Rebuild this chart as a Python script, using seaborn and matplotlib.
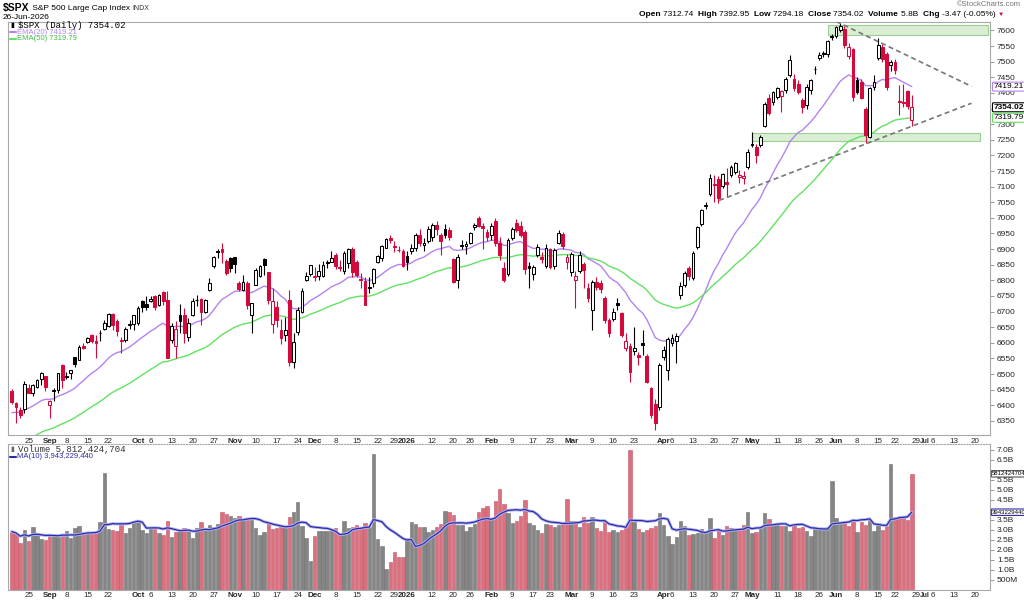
import numpy as np
import pandas as pd
import matplotlib
matplotlib.use("Agg")
import matplotlib.pyplot as plt
import matplotlib.patheffects as pe
from matplotlib.patches import Rectangle
import seaborn as sns

sns.set_theme(style="white")
plt.rcParams['font.family'] = ['Liberation Sans', 'DejaVu Sans']

# --- data (daily candles, 19-Aug-2025 .. 26-Jun-2026) ---
opens = [6446, 6409, 6386, 6388, 6457, 6440, 6460, 6483, 6494, 6401,
         6445, 6450, 6529, 6490, 6502, 6554, 6546, 6590, 6603, 6624,
         6606, 6631, 6644, 6654, 6693, 6670, 6608, 6610, 6658, 6660,
         6662, 6733, 6723, 6735, 6750, 6720, 6764, 6738, 6610, 6590,
         6690, 6690, 6620, 6690, 6736, 6740, 6700, 6770, 6845, 6895,
         6900, 6862, 6870, 6875, 6790, 6770, 6790, 6690, 6786, 6815,
         6868, 6827, 6660, 6714, 6641, 6625, 6738, 6540, 6636, 6700,
         6800, 6820, 6815, 6815, 6815, 6860, 6860, 6880, 6842, 6830,
         6855, 6900, 6860, 6805, 6798, 6780, 6790, 6860, 6870, 6905,
         6935, 6910, 6898, 6895, 6878, 6893, 6905, 6946, 6912, 6925,
         6940, 6978, 6945, 6965, 6960, 6868, 6800, 6910, 6910, 6920,
         6970, 7000, 6975, 6955, 6945, 6990, 6920, 6838, 6820, 6935,
         6985, 6975, 6955, 6845, 6820, 6880, 6875, 6845, 6900, 6845,
         6920, 6948, 6860, 6828, 6800, 6830, 6852, 6775, 6705, 6795,
         6792, 6743, 6672, 6676, 6726, 6696, 6582, 6590, 6575, 6562,
         6600, 6558, 6455, 6405, 6396, 6556, 6513, 6600, 6605, 6753,
         6786, 6839, 6807, 6906, 6980, 7038, 7076, 7110, 7123, 7101,
         7115, 7137, 7146, 7130, 7128, 7162, 7235, 7228, 7232, 7293,
         7383, 7370, 7386, 7390, 7408, 7456, 7446, 7430, 7376, 7360,
         7410, 7478, 7512, 7527, 7523, 7582, 7582, 7600, 7606, 7518,
         7542, 7440, 7435, 7350, 7260, 7418, 7513, 7548, 7523, 7488,
         7500, 7375, 7372, 7405, 7312.74]
highs = [6453, 6410, 6394, 6479, 6467, 6468, 6485, 6507, 6495, 6417,
         6454, 6502, 6532, 6507, 6513, 6555, 6592, 6600, 6619, 6627,
         6624, 6642, 6672, 6695, 6697, 6676, 6618, 6650, 6672, 6689,
         6718, 6736, 6750, 6749, 6753, 6755, 6765, 6765, 6665, 6670,
         6724, 6710, 6680, 6745, 6752, 6744, 6741, 6808, 6877, 6900,
         6920, 6868, 6874, 6876, 6798, 6816, 6799, 6729, 6841, 6850,
         6870, 6828, 6775, 6733, 6677, 6683, 6770, 6630, 6715, 6776,
         6828, 6850, 6843, 6851, 6862, 6866, 6895, 6887, 6864, 6895,
         6904, 6906, 6864, 6822, 6810, 6810, 6840, 6880, 6912, 6937,
         6945, 6925, 6910, 6900, 6895, 6915, 6950, 6965, 6935, 6975,
         6985, 6990, 6950, 6980, 6970, 6870, 6885, 6930, 6925, 6955,
         6985, 7005, 6985, 6965, 6985, 7000, 6940, 6860, 6935, 6972,
         6995, 6990, 6960, 6860, 6850, 6915, 6890, 6915, 6905, 6905,
         6960, 6955, 6885, 6890, 6830, 6895, 6860, 6790, 6800, 6810,
         6800, 6750, 6680, 6710, 6745, 6700, 6630, 6600, 6650, 6570,
         6640, 6565, 6460, 6420, 6535, 6590, 6620, 6628, 6630, 6795,
         6830, 6845, 6895, 6975, 7030, 7050, 7140, 7136, 7135, 7145,
         7160, 7168, 7180, 7153, 7150, 7220, 7275, 7235, 7265, 7370,
         7395, 7405, 7420, 7410, 7450, 7520, 7460, 7440, 7385, 7430,
         7445, 7485, 7530, 7535, 7570, 7590, 7615, 7625, 7615, 7560,
         7545, 7450, 7445, 7355, 7420, 7456, 7575, 7555, 7530, 7505,
         7510, 7424, 7430, 7410, 7392.95]
lows = [6405, 6343, 6360, 6374, 6438, 6429, 6457, 6466, 6447, 6360,
        6413, 6440, 6454, 6484, 6484, 6522, 6545, 6580, 6600, 6598,
        6551, 6606, 6642, 6650, 6642, 6621, 6569, 6604, 6643, 6641,
        6657, 6700, 6705, 6730, 6706, 6717, 6721, 6551, 6600, 6550,
        6633, 6600, 6605, 6685, 6717, 6656, 6695, 6765, 6840, 6870,
        6855, 6818, 6828, 6822, 6766, 6766, 6708, 6631, 6786, 6810,
        6818, 6723, 6631, 6650, 6595, 6605, 6525, 6521, 6625, 6697,
        6798, 6815, 6799, 6800, 6810, 6841, 6858, 6836, 6829, 6820,
        6840, 6810, 6812, 6775, 6720, 6760, 6780, 6854, 6862, 6903,
        6921, 6890, 6890, 6844, 6832, 6885, 6895, 6910, 6895, 6918,
        6925, 6945, 6880, 6935, 6930, 6790, 6775, 6900, 6885, 6915,
        6960, 6970, 6900, 6925, 6930, 6910, 6865, 6795, 6815, 6930,
        6955, 6940, 6820, 6775, 6800, 6875, 6855, 6840, 6835, 6835,
        6915, 6900, 6835, 6815, 6712, 6825, 6775, 6730, 6641, 6770,
        6760, 6665, 6620, 6670, 6705, 6620, 6575, 6476, 6560, 6530,
        6560, 6470, 6360, 6321, 6385, 6545, 6480, 6590, 6535, 6740,
        6780, 6800, 6800, 6900, 6975, 7030, 7070, 7050, 7047, 7095,
        7066, 7130, 7140, 7111, 7110, 7155, 7228, 7175, 7228, 7290,
        7330, 7360, 7380, 7339, 7400, 7450, 7405, 7395, 7335, 7350,
        7395, 7460, 7505, 7515, 7515, 7570, 7575, 7595, 7545, 7510,
        7375, 7395, 7380, 7240, 7255, 7410, 7505, 7500, 7410, 7470,
        7460, 7328, 7354, 7350, 7294.18]
closes = [6411, 6396, 6370, 6467, 6439, 6466, 6481, 6502, 6460, 6415,
          6448, 6502, 6482, 6495, 6512, 6532, 6587, 6584, 6615, 6606,
          6600, 6631, 6664, 6693, 6656, 6638, 6605, 6644, 6661, 6688,
          6711, 6715, 6716, 6740, 6714, 6753, 6735, 6553, 6654, 6644,
          6671, 6630, 6664, 6735, 6736, 6699, 6738, 6792, 6875, 6891,
          6890, 6822, 6840, 6851, 6771, 6796, 6720, 6728, 6832, 6846,
          6850, 6737, 6734, 6672, 6617, 6642, 6538, 6603, 6705, 6766,
          6813, 6849, 6812, 6829, 6850, 6857, 6870, 6846, 6840, 6887,
          6901, 6827, 6816, 6800, 6721, 6775, 6835, 6878, 6910, 6932,
          6930, 6906, 6896, 6845, 6858, 6902, 6944, 6920, 6921, 6966,
          6977, 6963, 6926, 6944, 6940, 6796, 6875, 6913, 6915, 6950,
          6978, 6975, 6969, 6940, 6975, 6920, 6880, 6800, 6930, 6965,
          6960, 6945, 6835, 6838, 6843, 6907, 6868, 6905, 6842, 6898,
          6950, 6910, 6875, 6884, 6815, 6880, 6832, 6742, 6795, 6780,
          6772, 6673, 6632, 6700, 6720, 6625, 6607, 6508, 6584, 6556,
          6594, 6476, 6370, 6345, 6529, 6577, 6612, 6616, 6622, 6782,
          6823, 6814, 6887, 6970, 7025, 7042, 7127, 7105, 7063, 7140,
          7110, 7162, 7175, 7138, 7134, 7210, 7232, 7200, 7259, 7366,
          7335, 7402, 7415, 7405, 7446, 7504, 7415, 7402, 7354, 7420,
          7440, 7475, 7521, 7523, 7565, 7579, 7610, 7615, 7552, 7548,
          7386, 7402, 7385, 7265, 7415, 7435, 7552, 7510, 7418, 7500,
          7472, 7370, 7368, 7357.49, 7354.02]
# volume in billions of shares
volumes = [2.92, 2.78, 2.37, 2.98, 2.45, 3.15, 2.87, 2.57, 2.48, 2.78,
           2.80, 2.67, 2.70, 2.95, 2.58, 3.08, 3.20, 2.90, 2.87, 2.82,
           2.95, 3.42, 5.87, 3.07, 3.00, 2.95, 3.25, 2.87, 3.08, 3.45,
           3.45, 2.98, 2.87, 3.15, 3.03, 2.87, 2.75, 3.45, 2.67, 2.92,
           2.95, 3.12, 3.03, 2.62, 3.08, 3.40, 3.12, 3.25, 3.15, 3.32,
           3.92, 3.82, 3.70, 3.62, 3.70, 3.48, 3.53, 3.50, 3.08, 2.75,
           2.92, 3.33, 3.07, 3.12, 3.23, 3.08, 3.65, 3.92, 4.42, 3.20,
           2.62, 1.45, 2.70, 2.95, 2.95, 2.95, 3.03, 3.08, 2.78, 3.45,
           3.08, 3.15, 3.23, 3.15, 3.37, 3.15, 6.78, 2.57, 2.20, 1.07,
           1.40, 1.90, 1.67, 1.67, 2.58, 3.40, 3.28, 3.15, 3.15, 2.92,
           2.98, 3.17, 3.32, 3.95, 3.90, 3.75, 3.23, 3.23, 2.95, 3.15,
           3.32, 3.90, 4.08, 4.20, 3.53, 4.45, 5.07, 4.28, 3.83, 3.33,
           3.45, 3.70, 4.48, 3.37, 3.25, 3.00, 2.87, 3.32, 3.23, 3.15,
           3.23, 3.37, 4.53, 3.45, 3.45, 3.17, 3.65, 3.33, 3.65, 3.08,
           2.95, 3.42, 2.90, 2.98, 2.90, 2.98, 3.15, 7.00, 3.42, 3.03,
           2.90, 2.98, 3.08, 3.20, 3.83, 3.25, 2.70, 2.28, 2.67, 3.45,
           3.20, 2.73, 2.82, 2.87, 3.03, 2.95, 3.58, 2.58, 2.98, 2.75,
           3.20, 3.12, 3.03, 3.03, 3.23, 3.90, 2.83, 2.92, 3.08, 3.83,
           3.53, 3.20, 3.37, 3.20, 3.20, 2.95, 3.28, 3.12, 3.15, 2.95,
           2.70, 3.03, 3.03, 3.12, 3.15, 5.45, 3.62, 3.32, 3.37, 3.20,
           3.53, 2.92, 3.40, 3.25, 3.50, 2.95, 3.33, 2.98, 3.20, 6.32,
           3.65, 3.58, 3.58, 3.50, 5.81]
prev_close_start = 6449.0       # close of 18-Aug-2025
ema20_start = 6376.0            # EMA values at the first visible candle
ema50_start = 6270.0

holidays = ['2025-09-01', '2025-11-27', '2025-12-25', '2026-01-01', '2026-01-19',
            '2026-02-16', '2026-04-03', '2026-05-25', '2026-06-19', '2026-07-03']
tick_dates = ['2025-08-25', '2025-09-02', '2025-09-08', '2025-09-15', '2025-09-22',
              '2025-10-01', '2025-10-06', '2025-10-13', '2025-10-20', '2025-10-27',
              '2025-11-03', '2025-11-10', '2025-11-17', '2025-11-24', '2025-12-01',
              '2025-12-08', '2025-12-15', '2025-12-22', '2025-12-29', '2026-01-02',
              '2026-01-12', '2026-01-20', '2026-01-26', '2026-02-02', '2026-02-09',
              '2026-02-17', '2026-02-23', '2026-03-02', '2026-03-09', '2026-03-16',
              '2026-03-23', '2026-04-01', '2026-04-06', '2026-04-13', '2026-04-20',
              '2026-04-27', '2026-05-01', '2026-05-11', '2026-05-18', '2026-05-26',
              '2026-06-01', '2026-06-08', '2026-06-15', '2026-06-22', '2026-06-29',
              '2026-07-01', '2026-07-06', '2026-07-13', '2026-07-20']
tick_labels = ['25', 'Sep', '8', '15', '22', 'Oct', '6', '13', '20', '27', 'Nov', '10',
               '17', '24', 'Dec', '8', '15', '22', '29', '2026', '12', '20', '26', 'Feb',
               '9', '17', '23', 'Mar', '9', '16', '23', 'Apr', '6', '13', '20', '27', 'May',
               '11', '18', '26', 'Jun', '8', '15', '22', '29', 'Jul', '6', '13', '20']

# --- derived ---
o = np.array(opens, float); h = np.array(highs, float)
l = np.array(lows, float); c = np.array(closes, float)
v = np.array(volumes, float)
n = len(c)
x = np.arange(n)

days = pd.bdate_range('2025-08-19', '2026-07-31')
days = days[~days.isin(pd.to_datetime(holidays))]
tick_pos = days.get_indexer(pd.to_datetime(tick_dates))
jul_idx = tick_labels.index('Jul')

prev = np.r_[prev_close_start, c[:-1]]
up_day = c >= prev
hollow = c > o

def ema(vals, start, span):
    a = 2.0 / (span + 1)
    out = np.empty_like(vals)
    e = start
    for i, val in enumerate(vals):
        if i > 0:
            e = e + a * (val - e)
        out[i] = e
    return out

ema20 = ema(c, ema20_start, 20)
ema50 = ema(c, ema50_start, 50)
vol_ma = pd.Series(v).rolling(10, min_periods=1).mean().values

RED = '#d40a3c'
VRED = '#d9707e'
VGRAY = '#858585'
PURPLE = '#b483f0'
GREEN = '#62e262'
BLUE = '#2b2ba8'

W, H = 1024, 601
fig = plt.figure(figsize=(W / 100, H / 100), dpi=100)
fig.patch.set_facecolor('white')

def fx(px):
    return px / W

def fy(py):
    return 1 - py / H

ax = fig.add_axes([fx(8), fy(435), fx(990 - 8), (435 - 22) / H])
axv = fig.add_axes([fx(8), fy(590), fx(990 - 8), (590 - 444) / H])

XMIN, XMAX = -0.9, 232.6

# --- price panel ---
cols = np.where(up_day, 'black', RED)
ax.vlines(x, l, h, colors=cols, lw=0.8, zorder=3)
body_lo = np.minimum(o, c)
body_h = np.maximum(np.abs(c - o), 1.2)
faces = [('white' if hol else col) for hol, col in zip(hollow, cols)]
ax.bar(x, body_h, bottom=body_lo, width=0.66, color=faces, edgecolor=cols,
       linewidth=0.75, zorder=4)

sns.lineplot(x=x, y=ema20, ax=ax, color=PURPLE, lw=1.0, zorder=2)
sns.lineplot(x=x, y=ema50, ax=ax, color=GREEN, lw=1.0, zorder=2)

# support / resistance zones and triangle lines
ax.add_patch(Rectangle((194.1, 7586), 232.1 - 194.1, 7618 - 7586,
                       facecolor='#d9eed3', edgecolor='#9ccf94', lw=0.8, zorder=1))
ax.add_patch(Rectangle((175.9, 7245), 230.2 - 175.9, 7273 - 7245,
                       facecolor='#d9eed3', edgecolor='#9ccf94', lw=0.8, zorder=1))
ax.plot([196, 228.2], [7629, 7421], ls=(0, (3, 2)), color='#777777', lw=1.2, zorder=5)
ax.plot([168.2, 228.2], [7056, 7367], ls=(0, (3, 2)), color='#777777', lw=1.2, zorder=5)

ax.set_xlim(XMIN, XMAX)
ax.set_ylim(6305, 7627)
ax.yaxis.tick_right()
price_ticks = list(range(6350, 7601, 50))
ax.set_yticks(price_ticks)
# the 7350 label sits under the last-close box
ax.set_yticklabels(['' if t == 7350 else str(t) for t in price_ticks])
ax.tick_params(axis='y', labelsize=6, length=3, width=0.6, color='#888888', pad=2)
ax.set_xticks(tick_pos)
ax.set_xticklabels(tick_labels)
ax.tick_params(axis='x', labelsize=5.8, length=0, pad=2)
ax.set_xlabel(''); ax.set_ylabel('')
for sp in ax.spines.values():
    sp.set_color('#a8a8a8'); sp.set_linewidth(0.8)

# --- volume panel ---
vcols = np.where(up_day, VGRAY, VRED)
vedges = np.where(up_day, '#6f6f6f', '#c8546a')
axv.bar(x, v, width=0.82, color=vcols, edgecolor=vedges, linewidth=0.4, zorder=2)
sns.lineplot(x=x, y=vol_ma, ax=axv, color=BLUE, lw=0.9, zorder=3,
             path_effects=[pe.Stroke(linewidth=2.2, foreground='#b4b4f0'), pe.Normal()])
axv.set_xlim(XMIN, XMAX)
axv.set_ylim(0, 7.3)
axv.yaxis.tick_right()
vt = [0.5, 1.0, 1.5, 2.0, 2.5, 3.0, 3.5, 4.5, 5.0, 5.5, 6.5, 7.0]
axv.set_yticks(vt)
axv.set_yticklabels(['500M'] + [f'{t:.1f}B' for t in vt[1:]])
axv.tick_params(axis='y', labelsize=6, length=3, width=0.6, color='#888888', pad=2)
axv.set_xticks(tick_pos)
axv.set_xticklabels(tick_labels)
axv.tick_params(axis='x', labelsize=5.8, length=0, pad=1.5)
axv.set_xlabel(''); axv.set_ylabel('')
for sp in axv.spines.values():
    sp.set_color('#a8a8a8'); sp.set_linewidth(0.8)
axv.spines['top'].set_linestyle((0, (1, 1.5)))

for a in (ax, axv):
    for i, lab in enumerate(a.get_xticklabels()):
        t = lab.get_text()
        if not t.isdigit() or len(t) == 4:
            lab.set_fontweight('bold')
        if i == jul_idx:
            lab.set_fontsize(4.9)   # "29Jul6" is squeezed in the original

# --- value boxes on the right axis ---
def value_box(a, yval, text, edge, size=6, weight='normal', dx=2.5):
    a.annotate(text, xy=(1.0, yval), xycoords=('axes fraction', 'data'),
               xytext=(dx, 0), textcoords='offset points', va='center', ha='left',
               fontsize=size, color='black', fontweight=weight, annotation_clip=False,
               bbox=dict(boxstyle='round,pad=0.12', fc='white', ec=edge, lw=0.8),
               zorder=10)

value_box(ax, ema20[-1], '7419.21', PURPLE)
value_box(ax, c[-1], '7354.02', 'black', weight='bold')
value_box(ax, ema50[-1], '7319.79', GREEN)
value_box(axv, v[-1], '5812424704', '#555555', size=4.3, dx=1.5)
value_box(axv, vol_ma[-1], '3943229440', BLUE, size=4.3, dx=1.5)

# --- header and legends ---
renderer = fig.canvas.get_renderer()

def runs(x_px, y_px, parts, align='left'):
    texts = []
    widths = []
    for txt, size, weight, col in parts:
        t = fig.text(0, fy(y_px), txt, fontsize=size, fontweight=weight,
                     color=col, va='center', ha='left')
        texts.append(t)
        widths.append(t.get_window_extent(renderer=renderer).width)
    if align == 'right':
        x_px -= sum(widths)
    for t, w in zip(texts, widths):
        t.set_x(fx(x_px))
        x_px += w

runs(3, 8, [('$SPX', 7.5, 'bold', 'black'), (' S&P 500 Large Cap Index ', 6, 'normal', 'black'),
            ('INDX', 5, 'normal', '#333333')])
fig.text(fx(3), fy(17.5), '26-Jun-2026', fontsize=6, color='black', va='center')
fig.text(fx(1021), fy(5), '\u00a9StockCharts.com', fontsize=5.5, color='#777777',
         va='center', ha='right')
runs(1004, 14.5, [('Open ', 6, 'bold', 'black'), ('7312.74  ', 6, 'normal', 'black'),
                  ('High ', 6, 'bold', 'black'), ('7392.95  ', 6, 'normal', 'black'),
                  ('Low ', 6, 'bold', 'black'), ('7294.18  ', 6, 'normal', 'black'),
                  ('Close ', 6, 'bold', 'black'), ('7354.02  ', 6, 'normal', 'black'),
                  ('Volume ', 6, 'bold', 'black'), ('5.8B  ', 6, 'normal', 'black'),
                  ('Chg ', 6, 'bold', 'black'), ('-3.47 (-0.05%) ', 6, 'normal', 'black'),
                  ('\u25bc', 4.5, 'normal', RED)], align='right')

fig.text(fx(10), fy(25), '\u25ae', fontsize=5, color='black', va='center')
fig.text(fx(18), fy(25), '$SPX (Daily) 7354.02', fontsize=6.5, va='center',
         family=['Liberation Mono', 'DejaVu Sans Mono'], color='black')
fig.add_artist(plt.Line2D([fx(10), fx(16)], [fy(32), fy(32)], color=PURPLE, lw=1.5))
fig.text(fx(17), fy(32), 'EMA(20) 7419.21', fontsize=5.5, color=PURPLE, va='center')
fig.add_artist(plt.Line2D([fx(10), fx(16)], [fy(39), fy(39)], color=GREEN, lw=1.5))
fig.text(fx(17), fy(39), 'EMA(50) 7319.79', fontsize=5.5, color='#3fbf3f', va='center')

fig.text(fx(10), fy(450), '\u25ae', fontsize=5, color='#666666', va='center')
fig.text(fx(18), fy(450), 'Volume 5,812,424,704', fontsize=6.5, va='center',
         family=['Liberation Mono', 'DejaVu Sans Mono'], color='#333333')
fig.add_artist(plt.Line2D([fx(10), fx(16)], [fy(457), fy(457)], color=BLUE, lw=1.5))
fig.text(fx(17), fy(457), 'MA(10) 3,943,229,440', fontsize=5.5, color=BLUE, va='center')

fig.savefig('out.png', dpi=100)
